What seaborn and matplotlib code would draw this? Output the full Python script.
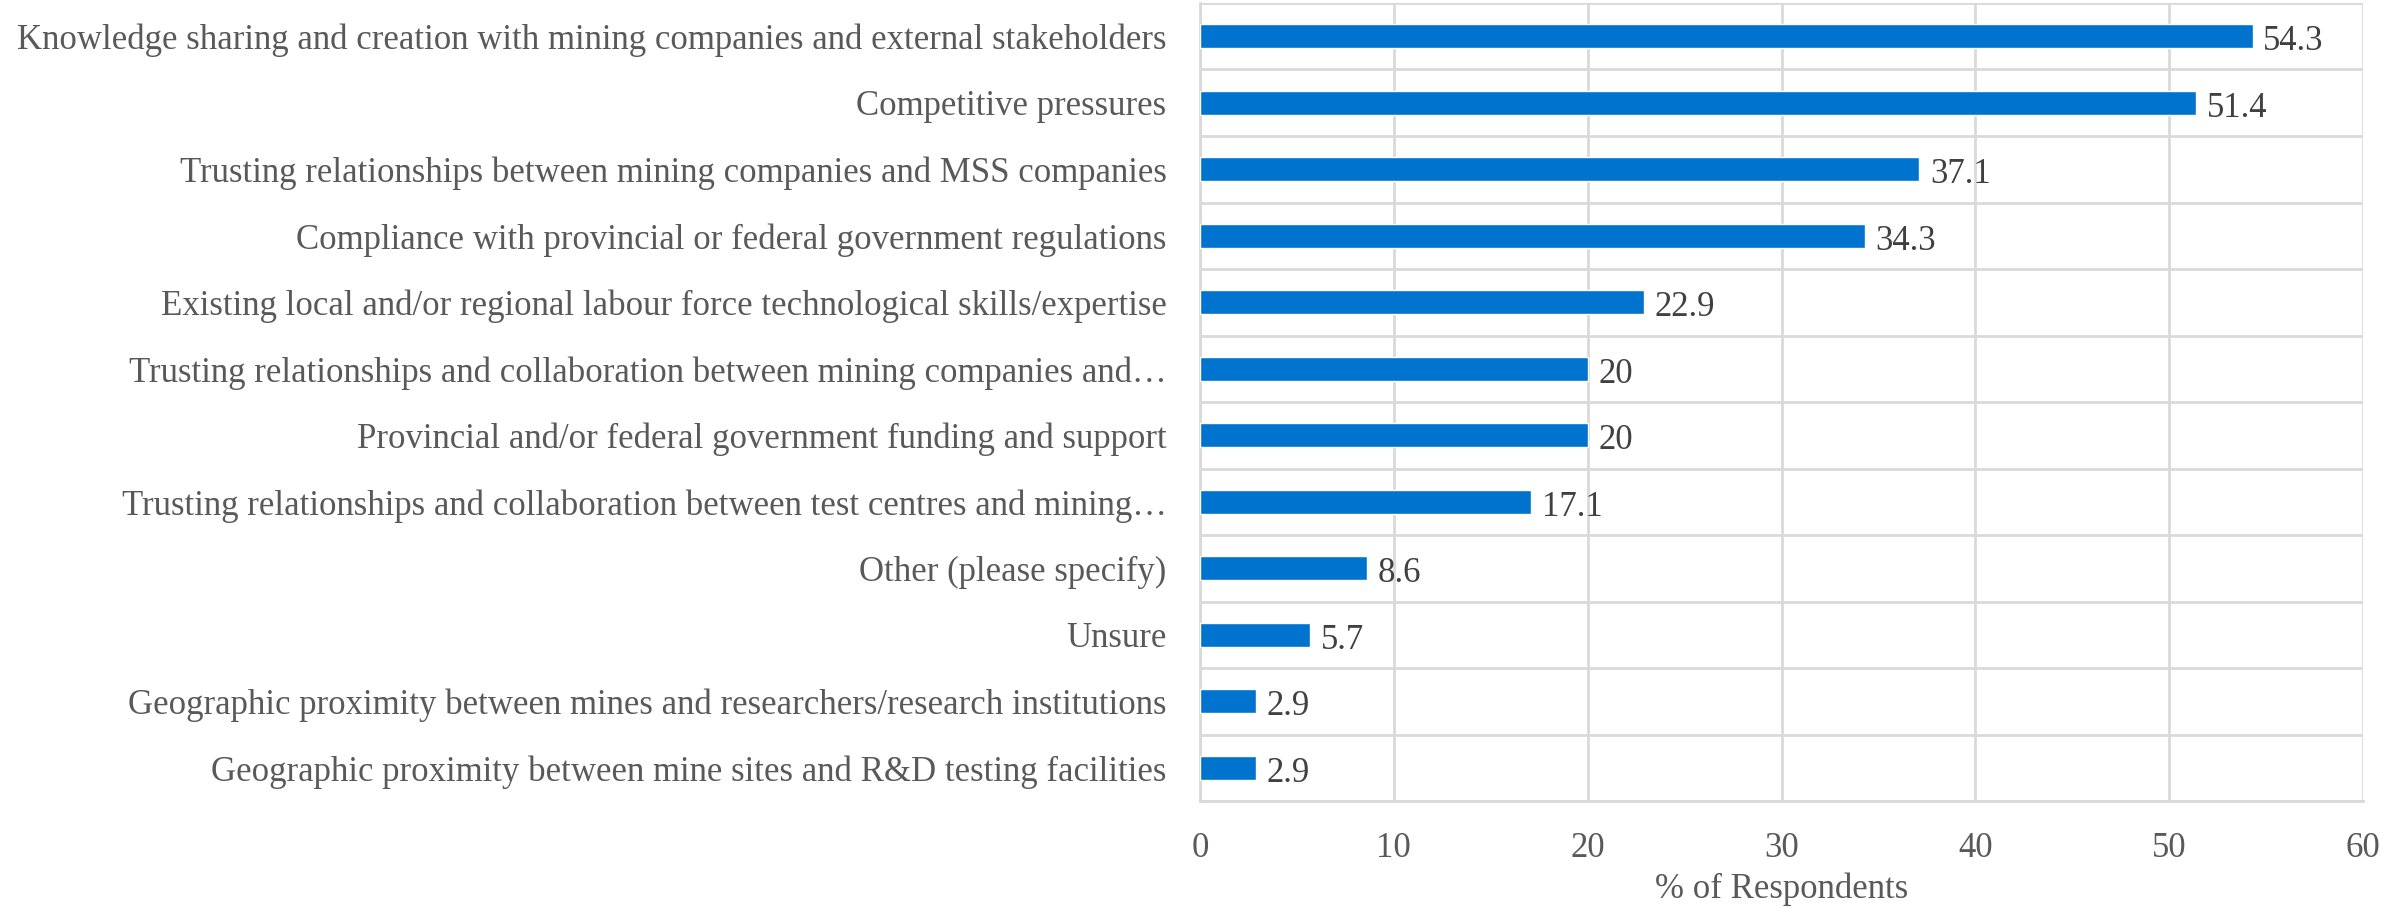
import matplotlib
matplotlib.use("Agg")
import matplotlib.pyplot as plt
import seaborn as sns
import pandas as pd
import numpy as np

factors = [
    "Knowledge sharing and creation with mining companies and external stakeholders",
    "Competitive pressures",
    "Trusting relationships between mining companies and MSS companies",
    "Compliance with provincial or federal government regulations",
    "Existing local and/or regional labour force technological skills/expertise",
    "Trusting relationships and collaboration between mining companies and…",
    "Provincial and/or federal government funding and support",
    "Trusting relationships and collaboration between test centres and mining…",
    "Other (please specify)",
    "Unsure",
    "Geographic proximity between mines and researchers/research institutions",
    "Geographic proximity between mine sites and R&D testing facilities",
]
pct = [54.3, 51.4, 37.1, 34.3, 22.9, 20, 20, 17.1, 8.6, 5.7, 2.9, 2.9]

df = pd.DataFrame({"factor": factors, "pct": pct})

sns.set_style("white")
plt.rcParams['font.family'] = ['Liberation Serif', 'DejaVu Serif']

fig, ax = plt.subplots(figsize=(23.87, 9.08), dpi=100)
fig.subplots_adjust(left=0.5027, right=0.990, top=0.9967, bottom=0.1178)

sns.barplot(data=df, x="pct", y="factor", color="#0073CF", width=0.36,
            saturation=1, ax=ax, zorder=3)

grid_c = "#d9d9d9"
ax.set_xlim(0, 60)
ax.set_xticks(np.arange(0, 61, 10))
ax.set_ylim(len(factors) - 0.5, -0.5)
ax.set_yticks(np.arange(-0.5, len(factors)), minor=True)
ax.grid(axis="x", color=grid_c, linewidth=2, zorder=0)
ax.grid(axis="y", which="minor", color=grid_c, linewidth=2, zorder=0)
ax.grid(axis="y", which="major", visible=False)
for s in ["top", "right"]:
    ax.spines[s].set_visible(False)
for s in ["left", "bottom"]:
    ax.spines[s].set_color(grid_c)
    ax.spines[s].set_linewidth(2)

fs = 25
ax.tick_params(axis="y", which="both", length=0, pad=24, labelsize=fs, labelcolor="#595959")
ax.tick_params(axis="x", length=0, pad=22, labelsize=fs, labelcolor="#595959")

for i, v in enumerate(pct):
    ax.text(v + 0.55, i + 0.08, f"{v:g}", va="center", ha="left", fontsize=fs, color="#404040")

ax.set_ylabel("")
ax.set_xlabel("% of Respondents", fontsize=fs, color="#595959", labelpad=6)

fig.savefig("out.png", dpi=100)
